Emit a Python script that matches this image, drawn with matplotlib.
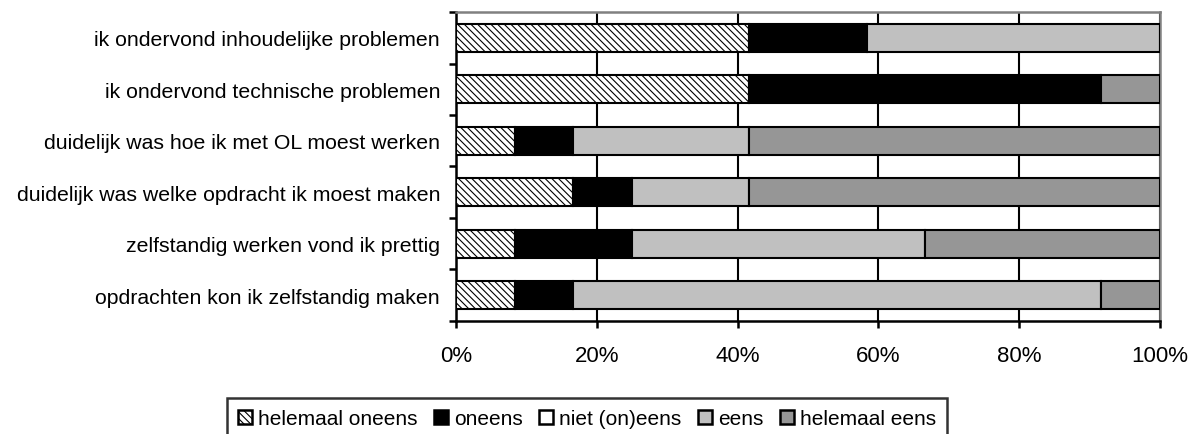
import numpy as np
import matplotlib
matplotlib.use("Agg")
import matplotlib.pyplot as plt
from matplotlib.patches import Patch

plt.rcParams['font.family'] = ['Liberation Sans', 'DejaVu Sans']
plt.rcParams['hatch.linewidth'] = 0.8

# statements, top to bottom
statements = [
    "ik ondervond inhoudelijke problemen",
    "ik ondervond technische problemen",
    "duidelijk was hoe ik met OL moest werken",
    "duidelijk was welke opdracht ik moest maken",
    "zelfstandig werken vond ik prettig",
    "opdrachten kon ik zelfstandig maken",
]
answers = ["helemaal oneens", "oneens", "niet (on)eens", "eens", "helemaal eens"]

# number of respondents (out of 12) per answer, per statement
helemaal_oneens = [5, 5, 1, 2, 1, 1]
oneens = [2, 6, 1, 1, 2, 1]
niet_oneens = [0, 0, 0, 0, 0, 0]
eens = [5, 0, 3, 2, 5, 9]
helemaal_eens = [0, 1, 7, 7, 4, 1]

series = [helemaal_oneens, oneens, niet_oneens, eens, helemaal_eens]
facecolors = ["white", "black", "white", "#c0c0c0", "#969696"]
hatches = ["\\\\\\\\\\", None, None, None, None]

counts = np.array(series, dtype=float)
pct = counts / counts.sum(axis=0) * 100

fig = plt.figure(figsize=(12, 4.35), dpi=100)
ax = fig.add_axes([0.38, 0.26, 0.5867, 0.71])

y = np.arange(len(statements))[::-1]
left = np.zeros(len(statements))
for vals, fc, h, name in zip(pct, facecolors, hatches, answers):
    ax.barh(y, vals, left=left, height=0.55, color=fc, edgecolor="black",
            linewidth=1.5, hatch=h, label=name, zorder=3)
    left += vals

ax.set_xlim(0, 100)
ax.set_ylim(-0.5, len(statements) - 0.5)
ax.set_xticks(np.arange(0, 101, 20))
ax.set_xticklabels([f"{v}%" for v in range(0, 101, 20)], fontsize=16)
ax.xaxis.grid(True, color="black", linewidth=1.5, zorder=0)

ax.set_yticks(y)
ax.set_yticklabels(statements, fontsize=15.3)
ax.tick_params(axis="y", length=0, pad=11.5)
ax.set_yticks(np.arange(-0.5, len(statements), 1), minor=True)
ax.tick_params(axis="y", which="minor", length=5, width=1.8, direction="out")
ax.tick_params(axis="x", length=5, width=1.8, direction="out", pad=12)

for side in ["left", "bottom"]:
    ax.spines[side].set_linewidth(1.8)
    ax.spines[side].set_color("black")
for side in ["top", "right"]:
    ax.spines[side].set_linewidth(1.8)
    ax.spines[side].set_color("#808080")

handles = [Patch(facecolor=fc, edgecolor="black", hatch=h, linewidth=1.8)
           for fc, h in zip(facecolors, hatches)]
leg = fig.legend(handles, answers, loc="upper left", bbox_to_anchor=(0.189, 0.083),
                 ncol=5, fontsize=15, frameon=True, fancybox=False,
                 edgecolor="black", handlelength=0.65, handleheight=0.65,
                 handletextpad=0.3, columnspacing=0.8, borderpad=0.55,
                 borderaxespad=0)
leg.get_frame().set_linewidth(1.8)

fig.savefig("out.png", dpi=100)
